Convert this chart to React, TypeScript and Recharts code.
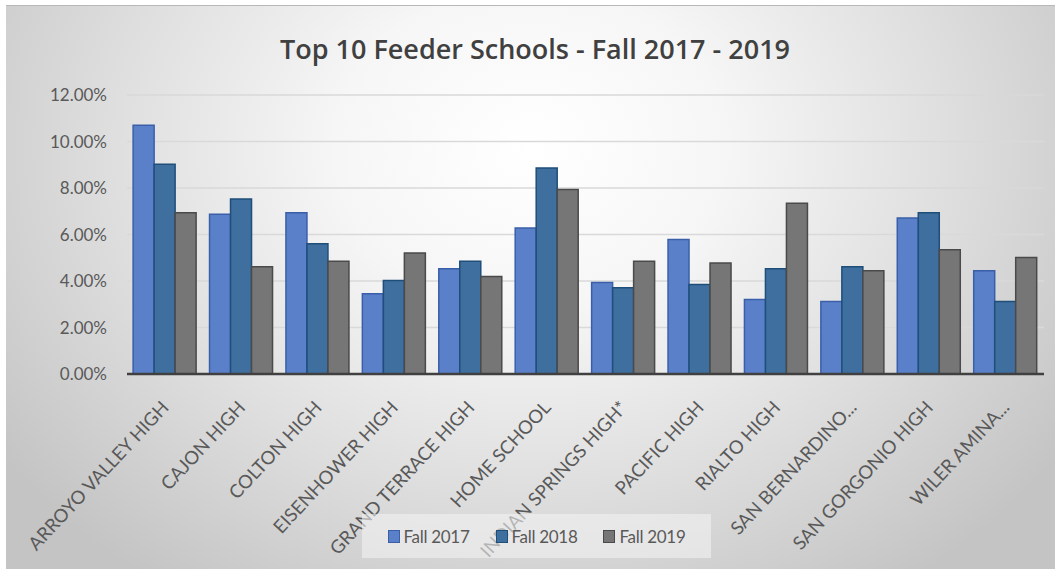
import React from "react";
import { BarChart, Bar, XAxis, YAxis, CartesianGrid, Legend } from "recharts";

const schools = [
  "ARROYO VALLEY HIGH",
  "CAJON HIGH",
  "COLTON HIGH",
  "EISENHOWER HIGH",
  "GRAND TERRACE HIGH",
  "HOME SCHOOL",
  "INDIAN SPRINGS HIGH*",
  "PACIFIC HIGH",
  "RIALTO HIGH",
  "SAN BERNARDINO...",
  "SAN GORGONIO HIGH",
  "WILER AMINA...",
];

const fall2017 = [10.7, 6.87, 6.94, 3.45, 4.53, 6.28, 3.94, 5.78, 3.2, 3.12, 6.71, 4.44];
const fall2018 = [9.02, 7.53, 5.6, 4.02, 4.85, 8.86, 3.71, 3.85, 4.53, 4.61, 6.94, 3.12];
const fall2019 = [6.94, 4.61, 4.85, 5.2, 4.19, 7.94, 4.85, 4.77, 7.34, 4.44, 5.34, 5.01];

const yTicks = [0, 2, 4, 6, 8, 10, 12];
const title = "Top 10 Feeder Schools - Fall 2017 - 2019";

const data = schools.map((s, i) => ({
  school: s,
  "Fall 2017": fall2017[i],
  "Fall 2018": fall2018[i],
  "Fall 2019": fall2019[i],
}));

const FONT = "Lato, 'Open Sans', sans-serif";

const XTick = (props: any) => {
  const { x, y, payload } = props;
  return (
    <g transform={`translate(${x},${y + 22})`}>
      <text
        x={0}
        y={0}
        dy="0.35em"
        transform="rotate(-47)"
        textAnchor="end"
        fill="#595959"
        fontSize={18.5}
        fontFamily={FONT}
      >
        {payload.value}
      </text>
    </g>
  );
};

const LegendContent = (props: any) => {
  const { payload } = props;
  return (
    <div
      style={{
        display: "flex",
        alignItems: "center",
        justifyContent: "center",
        height: "100%",
        gap: 26,
        fontFamily: FONT,
        fontSize: 17,
        letterSpacing: -0.3,
        color: "#595959",
      }}
    >
      {payload.map((p: any) => (
        <div key={p.value} style={{ display: "flex", alignItems: "center" }}>
          <span
            style={{
              display: "inline-block",
              width: 10,
              height: 11,
              background: p.color,
              border: `1px solid ${p.payload.stroke}`,
              marginRight: 4,
            }}
          />
          <span>{p.value}</span>
        </div>
      ))}
    </div>
  );
};

export default function App() {
  return (
    <div style={{ position: "absolute", left: 0, top: 0, width: 1055, height: 569, background: "#ffffff" }}>
      <div
        style={{
          position: "absolute",
          left: 6,
          top: 5,
          width: 1049,
          height: 564,
          borderTop: "1px solid #b8b8b8",
          boxSizing: "border-box",
          background:
            "radial-gradient(ellipse 62% 95% at 50% 25%, #ffffff 0%, #f6f6f6 30%, #dedede 65%, #c4c4c4 100%)",
        }}
      >
        <div
          style={{
            position: "absolute",
            left: 0,
            top: 24,
            width: 1058,
            textAlign: "center",
            fontFamily: "'Open Sans', sans-serif",
            fontWeight: 600,
            fontSize: 27,
            color: "#404040",
          }}
        >
          {title}
        </div>
        <BarChart
          width={1049}
          height={563}
          data={data}
          margin={{ top: 89, right: 11, bottom: 5, left: 11 }}
          barCategoryGap="8%"
          barGap={0}
          style={{ position: "absolute", left: 0, top: 0 }}
        >
          <CartesianGrid vertical={false} stroke="#d9d9d9" strokeWidth={1.5} />
          <XAxis
            dataKey="school"
            interval={0}
            height={190}
            tickLine={false}
            axisLine={{ stroke: "#404040", strokeWidth: 2.5 }}
            tick={<XTick />}
          />
          <YAxis
            width={110}
            domain={[0, 12]}
            ticks={yTicks}
            axisLine={false}
            tickLine={false}
            tickMargin={14}
            tickFormatter={(v: number) => v.toFixed(2) + "%"}
            tick={{ fill: "#595959", fontSize: 17, fontFamily: FONT }}
          />
          <Legend
            layout="vertical"
            align="center"
            verticalAlign="middle"
            content={<LegendContent />}
            wrapperStyle={{
              position: "absolute",
              left: 356,
              top: 508,
              width: 349,
              height: 44,
              background: "rgba(242,242,242,0.6)",
            }}
          />
          <Bar dataKey="Fall 2017" fill="#5B80CA" stroke="#3A5FA8" strokeWidth={1.5} isAnimationActive={false} />
          <Bar dataKey="Fall 2018" fill="#3E6F9E" stroke="#1F4E79" strokeWidth={1.5} isAnimationActive={false} />
          <Bar dataKey="Fall 2019" fill="#767676" stroke="#4A4A4A" strokeWidth={1.5} isAnimationActive={false} />
        </BarChart>
      </div>
    </div>
  );
}
